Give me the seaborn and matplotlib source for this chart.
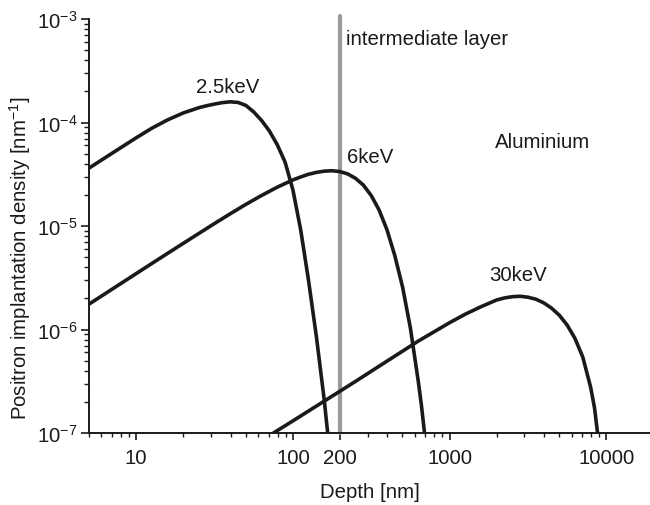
import numpy as np
import pandas as pd
import matplotlib
matplotlib.use("Agg")
import matplotlib.pyplot as plt
import seaborn as sns
from matplotlib.ticker import FixedLocator, LogLocator, NullFormatter

# ---- data (depth in nm, density in nm^-1) ----
depth_2p5 = [5.012, 6.310, 7.943, 10.0, 12.59, 15.85, 19.95, 25.12, 28.18, 31.62, 35.48,
             39.81, 44.67, 50.12, 56.23, 63.10, 70.79, 79.43, 89.13, 100.0, 112.2,
             125.9, 141.3, 158.5, 166.7]
dens_2p5 = [3.631e-5, 4.550e-5, 5.689e-5, 7.112e-5, 8.810e-5, 1.059e-4, 1.236e-4,
            1.390e-4, 1.452e-4, 1.507e-4, 1.556e-4, 1.585e-4, 1.563e-4, 1.462e-4,
            1.265e-4, 1.047e-4, 8.279e-5, 6.109e-5, 4.150e-5, 2.239e-5, 9.142e-6,
            2.965e-6, 8.492e-7, 2.084e-7, 1.0e-7]

depth_6 = [5.012, 7.943, 12.59, 19.95, 31.62, 39.81, 50.12, 63.10, 79.43, 100.0, 112.2,
           125.9, 141.3, 158.5, 177.8, 199.5, 223.9, 251.2, 281.8, 316.2, 354.8, 398.1,
           446.7, 501.2, 562.3, 631.0, 660.7, 691.8]
dens_6 = [1.762e-6, 2.767e-6, 4.345e-6, 6.792e-6, 1.057e-5, 1.312e-5, 1.618e-5,
          1.972e-5, 2.371e-5, 2.786e-5, 2.979e-5, 3.162e-5, 3.296e-5, 3.388e-5,
          3.420e-5, 3.357e-5, 3.184e-5, 2.884e-5, 2.483e-5, 1.968e-5, 1.429e-5,
          9.226e-6, 5.200e-6, 2.570e-6, 1.030e-6, 3.162e-7, 1.862e-7, 1.0e-7]

depth_30 = [75.16, 100.0, 158.5, 251.2, 398.1, 631.0, 1000, 1259, 1585, 1995, 2239,
            2512, 2818, 3162, 3548, 3981, 4467, 5012, 5623, 6310, 7079, 7943, 8414, 8790]
dens_30 = [1.0e-7, 1.309e-7, 2.032e-7, 3.155e-7, 4.943e-7, 7.727e-7, 1.164e-6,
           1.406e-6, 1.660e-6, 1.928e-6, 2.018e-6, 2.075e-6, 2.094e-6, 2.051e-6,
           1.963e-6, 1.811e-6, 1.611e-6, 1.374e-6, 1.104e-6, 8.204e-7, 5.408e-7,
           2.767e-7, 1.738e-7, 1.0e-7]

energies = ["2.5keV", "6keV", "30keV"]
layer_depth = 200

x_major = [10, 100, 200, 1000, 10000]
x_major_labels = ["10", "100", "200", "1000", "10000"]
y_major = [1e-7, 1e-6, 1e-5, 1e-4, 1e-3]
y_major_labels = [r"$\mathregular{10^{-7}}$", r"$\mathregular{10^{-6}}$",
                  r"$\mathregular{10^{-5}}$", r"$\mathregular{10^{-4}}$",
                  r"$\mathregular{10^{-3}}$"]

df = pd.concat([
    pd.DataFrame({"depth": depth_2p5, "dens": dens_2p5, "E": energies[0]}),
    pd.DataFrame({"depth": depth_6, "dens": dens_6, "E": energies[1]}),
    pd.DataFrame({"depth": depth_30, "dens": dens_30, "E": energies[2]}),
])

sns.set_theme(style="ticks")
plt.rcParams["font.family"] = ["Liberation Sans", "DejaVu Sans"]
plt.rcParams["mathtext.fontset"] = "custom"
plt.rcParams["mathtext.rm"] = "Liberation Sans"

FS = 14.7
ink = "#1a1a1a"

fig = plt.figure(figsize=(6.5, 5.06), dpi=100)
ax = fig.add_axes([89 / 650, (506 - 434) / 506, (650 - 89) / 650, 414 / 506])

ax.axvline(layer_depth, ymin=0, ymax=1.008, color="#9a9a9a", lw=3.0,
           clip_on=False, zorder=1)

for e in energies:
    sns.lineplot(data=df[df["E"] == e], x="depth", y="dens", ax=ax,
                 color=ink, lw=2.6, estimator=None, sort=False,
                 legend=False, zorder=3, solid_joinstyle="round")

ax.set_xscale("log")
ax.set_yscale("log")
ax.set_xlim(5, 19000)
ax.set_ylim(1e-7, 1e-3)

ax.xaxis.set_major_locator(FixedLocator(x_major))
ax.set_xticklabels(x_major_labels)
ax.xaxis.set_minor_locator(LogLocator(base=10, subs=np.arange(2, 10)))
ax.xaxis.set_minor_formatter(NullFormatter())
ax.yaxis.set_major_locator(FixedLocator(y_major))
ax.set_yticklabels(y_major_labels)
ax.yaxis.set_minor_locator(LogLocator(base=10, subs=np.arange(2, 10)))
ax.yaxis.set_minor_formatter(NullFormatter())

ax.tick_params(axis="x", which="major", direction="out", length=5, width=1.2,
               labelsize=FS, pad=5.5, color=ink, labelcolor=ink)
ax.tick_params(axis="x", which="minor", direction="out", length=3, width=1.0,
               color=ink)
ax.tick_params(axis="y", which="major", direction="out", length=6, width=1.2,
               labelsize=FS, pad=2, color=ink, labelcolor=ink)
ax.tick_params(axis="y", which="minor", direction="out", length=3.5, width=1.0,
               color=ink)

for s in ["top", "right"]:
    ax.spines[s].set_visible(False)
for s in ["left", "bottom"]:
    ax.spines[s].set_linewidth(1.4)
    ax.spines[s].set_color(ink)

ax.set_xlabel("Depth [nm]", fontsize=FS, color=ink)
ax.xaxis.set_label_coords(0.5, -(493 - 434) / 414, transform=ax.transAxes)
ax.set_ylabel(r"Positron implantation density [nm$\mathregular{^{-1}}$]",
              fontsize=FS, color=ink)
ax.yaxis.set_label_coords((20 - 89) / 561, (434 - 258) / 414, transform=ax.transAxes)
ax.xaxis.label.set_va("center")
ax.yaxis.label.set_va("center")

tk = dict(fontsize=FS, color=ink)
ax.text(38.6, 10 ** -3.657, "2.5keV", ha="center", va="center", **tk)
ax.text(222, 10 ** -4.333, "6keV", ha="left", va="center", **tk)
ax.text(2742, 10 ** -5.464, "30keV", ha="center", va="center", **tk)
ax.text(1954, 10 ** -4.179, "Aluminium", ha="left", va="center", **tk)
ax.text(219, 10 ** -3.193, "intermediate layer", ha="left", va="center", **tk)

fig.savefig("out.png", dpi=100)
